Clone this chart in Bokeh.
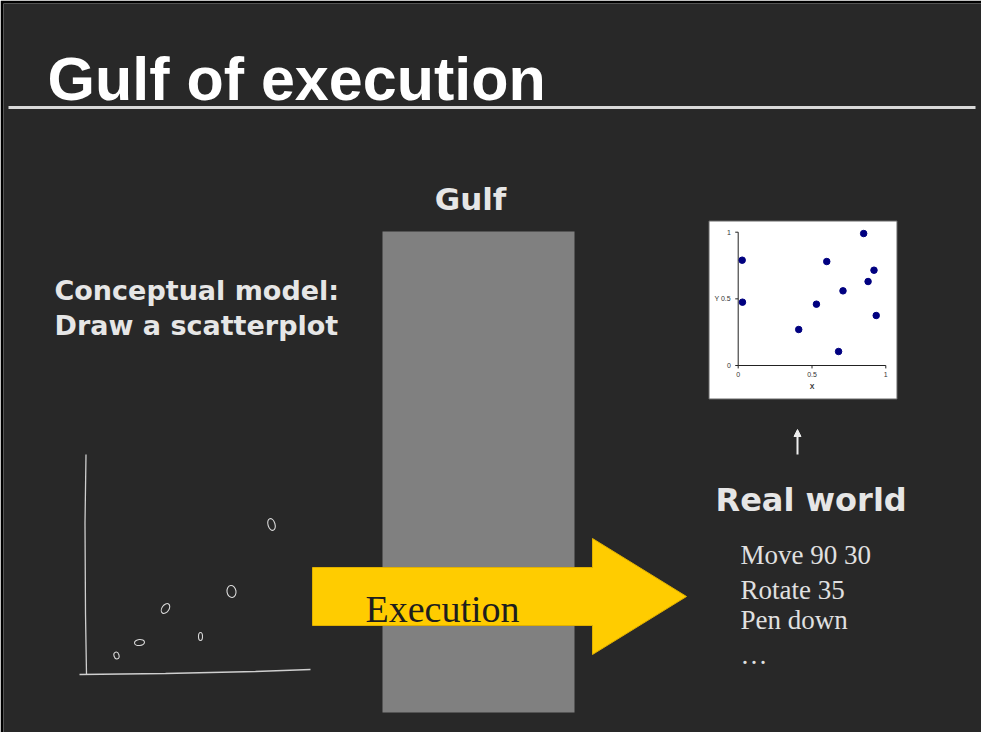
from bokeh.plotting import figure
from bokeh.models import Range1d, Arrow, NormalHead
from bokeh.core.properties import value
from bokeh.embed import file_html
from bokeh.resources import INLINE

# ---------------- data ----------------
# Inset "real world" scatterplot (0..1 axes)
inset_x = [0.027, 0.029, 0.41, 0.53, 0.60, 0.71, 0.68, 0.85, 0.92, 0.88, 0.935]
inset_y = [0.79, 0.475, 0.27, 0.46, 0.78, 0.56, 0.105, 0.99, 0.715, 0.63, 0.375]
inset_ticks = [0, 0.5, 1]
inset_xtick_labels = ["0", "0.5", "1"]
inset_ytick_labels = ["0", "Y 0.5", "1"]

# Hand-drawn sketch (sketch units, 1 unit ~ 1 px, origin at axis corner)
sketch_x = [186, 146, 80, 54, 115, 31]
sketch_y = [149, 82, 65, 31, 37, 18]
sketch_w = [7, 9, 7, 10, 4, 5]
sketch_h = [12, 12, 11, 6, 8, 7]
sketch_a = [0.3, 0.15, -0.6, 0.1, 0.0, 0.3]

commands = ["Move 90 30", "Rotate 35", "Pen down", "\u2026"]

# ---------------- layout ----------------
W, H = 981, 732
L, T = 11, 11          # frame page pixels (after 3px black border)
R, B = 989, 740

BG = "#282828"
p = figure(width=W, height=H, output_backend="svg", toolbar_location=None,
           x_range=Range1d(L, R), y_range=Range1d(B, T),
           background_fill_color=BG, border_fill_color="black",
           min_border=0, min_border_left=3, min_border_top=3,
           min_border_right=0, min_border_bottom=0)
p.axis.visible = False
p.xaxis.visible = False
p.yaxis.visible = False
p.grid.visible = False
p.outline_line_color = None


def span(v0, p0, v1, p1, pa, pb):
    k = (v1 - v0) / (p1 - p0)
    return Range1d(start=v0 + (pa - p0) * k, end=v0 + (pb - p0) * k)


# inset axes: x 0 -> 745.7, 1 -> 893.3 ; y 0 -> 373, 1 -> 239.7
p.extra_x_ranges = {"ix": span(0, 745.7, 1, 893.3, L, R),
                    "sx": span(0, 93, 100, 193, L, R)}
p.extra_y_ranges = {"iy": span(0, 373, 1, 239.7, B, T),
                    "sy": span(0, 681, 100, 581, B, T)}

# ---- title ----
p.text(x=[55], y=[86], text=["Gulf of execution"], text_color="white",
       text_font=value("Liberation Sans"), text_font_style="bold",
       text_font_size=value("61px"), text_baseline="alphabetic")
p.segment(x0=[16], y0=[115], x1=[983], y1=[115], line_color="#d9d9d9", line_width=3)

# ---- gulf ----
p.quad(left=[390], right=[582], top=[239], bottom=[720], fill_color="#808080", line_color=None)
HEAD = "#e6e6e6"
p.text(x=[478], y=[206], text=["Gulf"], text_color=HEAD, text_font=value("DejaVu Sans"),
       text_font_style="bold", text_font_size=value("31px"), text_align="center",
       text_baseline="alphabetic")

# ---- conceptual model ----
p.text(x=[62, 62], y=[298, 333], text=["Conceptual model:", "Draw a scatterplot"],
       text_color=HEAD, text_font=value("DejaVu Sans"), text_font_style="bold",
       text_font_size=value("27px"), text_baseline="alphabetic")

# ---- sketch ----
p.multi_line(xs=[[1, 0, -0.5, 0.5], [-6, 80, 170, 225]],
             ys=[[-1, 60, 150, 219], [-1, 0, 2, 4]],
             line_color="#cfcfcf", line_width=1.3, x_range_name="sx", y_range_name="sy")
p.ellipse(x=sketch_x, y=sketch_y, width=sketch_w, height=sketch_h, angle=sketch_a,
          fill_color=None, line_color="#d8d8d8", line_width=1.1,
          x_range_name="sx", y_range_name="sy")

# ---- execution arrow ----
ax0, ax1, axt = 320, 600, 694
ay_top, ay_bot, ah_top, ah_bot, ay_mid = 575, 633, 546, 662, 604
p.patch(x=[ax0, ax1, ax1, axt, ax1, ax1, ax0],
        y=[ay_top, ay_top, ah_top, ay_mid, ah_bot, ay_bot, ay_bot],
        fill_color="#ffcc00", line_color="#e0b000", line_width=1)
p.text(x=[373], y=[616], text=["Execution"], text_color="#1e1e1e",
       text_font=value("Liberation Serif"), text_font_size=value("38px"),
       text_baseline="alphabetic")

# ---- inset plot ----
p.quad(left=[716.5], right=[904.5], top=[228.5], bottom=[406.5], fill_color="white",
       line_color="#666666", line_width=1)
p.segment(x0=[0, 0], y0=[0, 0], x1=[0, 1], y1=[1, 0], line_color="#222222", line_width=1,
          x_range_name="ix", y_range_name="iy")
p.segment(x0=[-0.02] * 3, y0=inset_ticks, x1=[0] * 3, y1=inset_ticks, line_color="#222222",
          x_range_name="ix", y_range_name="iy")
p.segment(x0=inset_ticks, y0=[0] * 3, x1=inset_ticks, y1=[-0.022] * 3, line_color="#222222",
          x_range_name="ix", y_range_name="iy")
p.text(x=[-0.05] * 3, y=inset_ticks, text=inset_ytick_labels, text_color="#333333",
       text_font=value("Liberation Sans"), text_font_size=value("7px"), text_align="right",
       text_baseline="middle", x_range_name="ix", y_range_name="iy")
p.text(x=inset_ticks, y=[-0.07] * 3, text=inset_xtick_labels, text_color="#333333",
       text_font=value("Liberation Sans"), text_font_size=value("7px"), text_align="center",
       text_baseline="middle", x_range_name="ix", y_range_name="iy")
p.text(x=[0.5], y=[-0.155], text=["X"], text_color="#333333", text_font=value("Liberation Sans"),
       text_font_size=value("7px"), text_font_style="bold", text_align="center",
       text_baseline="middle", x_range_name="ix", y_range_name="iy")
p.scatter(x=inset_x, y=inset_y, size=6.5, fill_color="#000080", line_color="#000080",
          x_range_name="ix", y_range_name="iy")

# ---- real world ----
p.add_layout(Arrow(end=NormalHead(size=7, fill_color="#eeeeee", line_color="#eeeeee"),
                   x_start=805, y_start=462, x_end=805, y_end=437,
                   line_color="#eeeeee", line_width=2))
p.text(x=[723], y=[507], text=["Real world"], text_color=HEAD, text_font=value("DejaVu Sans"),
       text_font_style="bold", text_font_size=value("32px"), text_baseline="alphabetic")
p.text(x=[748] * 4, y=[562, 597, 627, 662], text=commands, text_color="#e0e0e0",
       text_font=value("Liberation Serif"), text_font_size=value("27px"),
       text_baseline="alphabetic")

open("out.html", "w").write(file_html(p, INLINE))
